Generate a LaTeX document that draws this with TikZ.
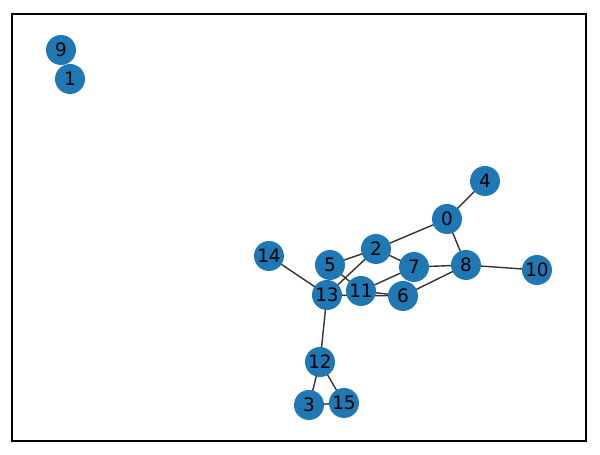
\documentclass[tikz,border=0pt]{standalone}
\usepackage{fontspec}
\setmainfont{DejaVu Sans}
\usetikzlibrary{backgrounds}
\definecolor{tabblue}{HTML}{1F77B4}
\begin{document}
\begin{tikzpicture}[
    x=0.02cm, y=-0.02cm,
    font=\fontsize{10.5pt}{12pt}\selectfont,
    vertex/.style={
        circle, fill=tabblue, inner sep=0pt,
        minimum size=0.6cm
    },
    link/.style={draw=black!80, line width=0.8pt},
    frame/.style={draw=black, line width=0.6pt}
]

\useasboundingbox (0,0) rectangle (600,455);
\draw[frame] (12,14) rectangle (586,441);

% Vertices
\node[vertex] (n0)  at (447,219) {0};
\node[vertex] (n1)  at (70,79)   {1};
\node[vertex] (n2)  at (376,249) {2};
\node[vertex] (n3)  at (309,405) {3};
\node[vertex] (n4)  at (485,181) {4};
\node[vertex] (n5)  at (330,265) {5};
\node[vertex] (n6)  at (403,296) {6};
\node[vertex] (n7)  at (414,267) {7};
\node[vertex] (n8)  at (466,265) {8};
\node[vertex] (n9)  at (61,50)   {9};
\node[vertex] (n10) at (537,270) {10};
\node[vertex] (n11) at (361,291) {11};
\node[vertex] (n12) at (320,362) {12};
\node[vertex] (n13) at (327,295) {13};
\node[vertex] (n14) at (269,256) {14};
\node[vertex] (n15) at (344,403) {15};

% Edges, kept behind the vertices
\begin{scope}[on background layer]
\foreach \a/\b in {0/4, 0/2, 0/8, 8/7, 8/10, 8/6, 2/5, 2/7, 2/13,
                   5/11, 11/7, 11/6, 13/6, 13/14, 13/12, 12/3, 12/15, 3/15}
    \draw[link] (n\a.center) -- (n\b.center);
\end{scope}

\end{tikzpicture}
\end{document}
